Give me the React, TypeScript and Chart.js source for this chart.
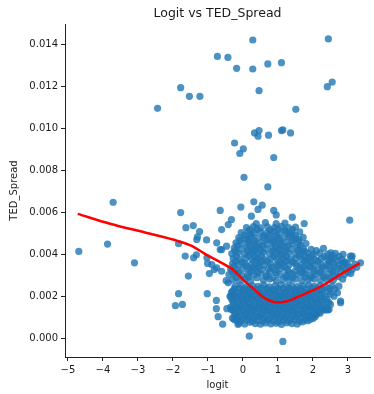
import { useEffect, useRef } from "react";
import { Chart, registerables } from "chart.js";

Chart.register(...registerables);

const chartTitle = "Logit vs TED_Spread";
const xLabel = "logit";
const yLabel = "TED_Spread";
const xTicks = [-5, -4, -3, -2, -1, 0, 1, 2, 3];
const yTicks = [0, 0.002, 0.004, 0.006, 0.008, 0.01, 0.012, 0.014];

// isolated points (logit, TED_Spread)
const sparsePoints: [number, number][] = [
  [-2.44, 0.01096], [-1.78, 0.01194], [-1.53, 0.01153], [-1.23, 0.01153], [-0.73, 0.01343],
  [-0.43, 0.01338], [-0.18, 0.01286], [0.28, 0.01421], [0.28, 0.01283], [0.46, 0.0118],
  [0.71, 0.01307], [1.1, 0.01313], [1.51, 0.01091], [2.44, 0.01426], [2.41, 0.01199], [2.55, 0.01221],
  [0.33, 0.00979], [0.46, 0.0099], [0.43, 0.00963], [0.73, 0.00968], [1.1, 0.0099], [1.14, 0.00993],
  [1.36, 0.00979], [-0.24, 0.00931], [0.01, 0.00903], [-0.09, 0.00881], [0.88, 0.00862],
  [0.03, 0.00768], [0.71, 0.00722],
  [-3.71, 0.00649], [-1.78, 0.006], [-0.65, 0.0061], [-0.06, 0.00626], [0.31, 0.00651], [0.55, 0.00635],
  [0.43, 0.00615], [0.88, 0.0061], [0.95, 0.00589], [1.41, 0.00578], [3.05, 0.00564],
  [-4.69, 0.00415], [-3.87, 0.0045], [-1.63, 0.00528], [-1.42, 0.00538], [-1.24, 0.0051],
  [-1.3, 0.00485], [-1.04, 0.0047], [-1.84, 0.00452], [-1.65, 0.00393], [-1.33, 0.00399], [-0.65, 0.00424],
  [-3.1, 0.00361], [-1.56, 0.00298], [-1.84, 0.00214], [-1.93, 0.00157], [-1.73, 0.00163],
  [-1.02, 0.00214], [-1.01, 0.00358], [-0.96, 0.0031], [-0.82, 0.00329], [-0.76, 0.00182],
  [-0.76, 0.00143], [-0.71, 0.00105], [-0.58, 0.00069], [-0.42, 0.00266], [0.18, 0.00012], [1.14, -0.00013],
];

// dense lower core of the cloud
const coreCluster: [number, number][] = [
  [-0.12, 0.00074], [0.05, 0.0007], [0.2, 0.00078], [0.35, 0.00072], [0.5, 0.00069], [0.65, 0.00075],
  [0.8, 0.00071], [0.95, 0.00073], [1.1, 0.00068], [1.25, 0.00076], [1.4, 0.00072], [1.55, 0.0007],
  [1.7, 0.0008], [1.85, 0.00086], [2.0, 0.00096],
  [-0.3, 0.00098], [-0.15, 0.00103], [0.0, 0.00095], [0.15, 0.00102], [0.3, 0.00097], [0.45, 0.00105],
  [0.6, 0.00099], [0.75, 0.00094], [0.9, 0.00104], [1.05, 0.00098], [1.2, 0.00101], [1.35, 0.00096],
  [1.5, 0.00103], [1.65, 0.00099], [1.8, 0.00106], [1.95, 0.0011], [2.1, 0.00115],
  [-0.22, 0.00124], [-0.07, 0.00128], [0.08, 0.00122], [0.23, 0.00127], [0.38, 0.00125], [0.53, 0.00121],
  [0.68, 0.00129], [0.83, 0.00126], [0.98, 0.00123], [1.13, 0.00127], [1.28, 0.00124], [1.43, 0.0013],
  [1.58, 0.00122], [1.73, 0.00126], [1.88, 0.00128], [2.03, 0.00125], [2.18, 0.0013], [2.32, 0.00136],
  [-0.35, 0.0015], [-0.2, 0.00147], [-0.05, 0.00153], [0.1, 0.00149], [0.25, 0.00152], [0.4, 0.00146],
  [0.55, 0.00151], [0.7, 0.00148], [0.85, 0.00154], [1.0, 0.0015], [1.15, 0.00147], [1.3, 0.00152],
  [1.45, 0.00149], [1.6, 0.00155], [1.75, 0.00148], [1.9, 0.00151], [2.05, 0.00146], [2.2, 0.00153], [2.38, 0.00149],
  [-0.28, 0.00176], [-0.13, 0.00172], [0.02, 0.00178], [0.17, 0.00174], [0.32, 0.00177], [0.47, 0.00171],
  [0.62, 0.00176], [0.77, 0.00173], [0.92, 0.00179], [1.07, 0.00175], [1.22, 0.00172], [1.37, 0.00177],
  [1.52, 0.00174], [1.67, 0.00178], [1.82, 0.00171], [1.97, 0.00176], [2.12, 0.00173], [2.27, 0.00178], [2.45, 0.00172],
  [-0.35, 0.00201], [-0.2, 0.00197], [-0.05, 0.00203], [0.1, 0.00199], [0.25, 0.00202], [0.4, 0.00196],
  [0.55, 0.00201], [0.7, 0.00198], [0.85, 0.00204], [1.0, 0.002], [1.15, 0.00197], [1.3, 0.00202],
  [1.45, 0.00199], [1.6, 0.00205], [1.75, 0.00198], [1.9, 0.00201], [2.05, 0.00196], [2.2, 0.00203], [2.35, 0.00199],
  [-0.3, 0.00226], [-0.15, 0.00222], [0.0, 0.00228], [0.15, 0.00224], [0.3, 0.00227], [0.45, 0.00221],
  [0.6, 0.00226], [0.75, 0.00223], [0.9, 0.00229], [1.05, 0.00225], [1.2, 0.00222], [1.35, 0.00227],
  [1.5, 0.00224], [1.65, 0.00228], [1.8, 0.00221], [1.95, 0.00226], [2.1, 0.00223], [2.25, 0.00228], [2.45, 0.00224],
  [-0.22, 0.0025], [-0.05, 0.00254], [0.12, 0.00248], [0.28, 0.00252], [0.44, 0.00249], [0.6, 0.00255],
  [0.76, 0.00247], [0.92, 0.00251], [1.08, 0.00256], [1.24, 0.00249], [1.4, 0.00253], [1.56, 0.00248],
  [1.72, 0.00252], [1.88, 0.00255], [2.04, 0.00249], [2.2, 0.00253], [2.36, 0.00247], [2.55, 0.00251],
];

// extra points packed between the core rows
const coreFill: [number, number][] = [
  [-0.2, 0.00088], [-0.05, 0.00085], [0.12, 0.0009], [0.27, 0.00084], [0.42, 0.00087], [0.57, 0.00083],
  [0.72, 0.00089], [0.87, 0.00086], [1.02, 0.00082], [1.17, 0.00088], [1.32, 0.00085], [1.47, 0.00089],
  [1.62, 0.00084], [1.77, 0.0009], [1.92, 0.00093], [2.06, 0.00104],
  [-0.24, 0.00113], [-0.08, 0.00109], [0.07, 0.00115], [0.22, 0.00111], [0.37, 0.00108], [0.52, 0.00114],
  [0.67, 0.0011], [0.82, 0.00116], [0.97, 0.00112], [1.12, 0.00109], [1.27, 0.00115], [1.42, 0.00111],
  [1.57, 0.00113], [1.72, 0.00117], [1.87, 0.0011], [2.02, 0.00114], [2.2, 0.00121],
  [-0.3, 0.00137], [-0.14, 0.0014], [0.01, 0.00135], [0.16, 0.00139], [0.31, 0.00136], [0.46, 0.00141],
  [0.61, 0.00138], [0.76, 0.00134], [0.91, 0.0014], [1.06, 0.00137], [1.21, 0.00141], [1.36, 0.00135],
  [1.51, 0.00139], [1.66, 0.00136], [1.81, 0.00142], [1.96, 0.00138], [2.11, 0.00134], [2.26, 0.0014], [2.42, 0.00137],
  [-0.27, 0.00162], [-0.12, 0.00159], [0.03, 0.00165], [0.18, 0.00161], [0.33, 0.00158], [0.48, 0.00164],
  [0.63, 0.0016], [0.78, 0.00166], [0.93, 0.00162], [1.08, 0.00159], [1.23, 0.00164], [1.38, 0.00161],
  [1.53, 0.00166], [1.68, 0.0016], [1.83, 0.00163], [1.98, 0.00159], [2.13, 0.00165], [2.28, 0.00161], [2.5, 0.00163],
  [-0.32, 0.00187], [-0.17, 0.0019], [-0.02, 0.00185], [0.13, 0.00189], [0.28, 0.00186], [0.43, 0.00191],
  [0.58, 0.00188], [0.73, 0.00184], [0.88, 0.0019], [1.03, 0.00187], [1.18, 0.00191], [1.33, 0.00185],
  [1.48, 0.00189], [1.63, 0.00186], [1.78, 0.00192], [1.93, 0.00188], [2.08, 0.00184], [2.23, 0.0019], [2.4, 0.00187],
  [-0.28, 0.00212], [-0.13, 0.00209], [0.02, 0.00215], [0.17, 0.00211], [0.32, 0.00208], [0.47, 0.00214],
  [0.62, 0.0021], [0.77, 0.00216], [0.92, 0.00212], [1.07, 0.00209], [1.22, 0.00214], [1.37, 0.00211],
  [1.52, 0.00216], [1.67, 0.0021], [1.82, 0.00213], [1.97, 0.00209], [2.12, 0.00215], [2.27, 0.00211], [2.5, 0.00213],
  [-0.25, 0.00237], [-0.1, 0.0024], [0.05, 0.00235], [0.2, 0.00239], [0.36, 0.00236], [0.52, 0.00241],
  [0.68, 0.00238], [0.84, 0.00234], [1.0, 0.0024], [1.16, 0.00237], [1.32, 0.00241], [1.48, 0.00235],
  [1.64, 0.00239], [1.8, 0.00236], [1.96, 0.00242], [2.12, 0.00238], [2.28, 0.00234], [2.46, 0.0024], [2.62, 0.00236],
];

// looser upper part of the cloud
const upperCluster: [number, number][] = [
  [-0.48, 0.00276], [-0.3, 0.00281], [-0.12, 0.00277], [0.06, 0.00283], [0.22, 0.00275], [0.58, 0.00279],
  [0.76, 0.00284], [0.95, 0.00276], [1.14, 0.00281], [1.32, 0.00278], [1.5, 0.00283], [1.68, 0.00276],
  [1.86, 0.0028], [2.04, 0.00284], [2.22, 0.00277], [2.4, 0.00281], [2.58, 0.00278], [2.85, 0.00283],
  [-0.4, 0.00305], [-0.22, 0.00309], [-0.04, 0.00302], [0.14, 0.00307], [0.32, 0.00304], [0.5, 0.0031],
  [0.68, 0.00303], [1.04, 0.00306], [1.22, 0.00302], [1.4, 0.00308], [1.58, 0.00305], [1.76, 0.00309],
  [1.94, 0.00303], [2.12, 0.00307], [2.3, 0.00304], [2.48, 0.00309], [2.66, 0.00302], [2.9, 0.00306], [3.08, 0.0031],
  [-0.35, 0.00331], [-0.17, 0.00327], [0.01, 0.00333], [0.19, 0.00328], [0.37, 0.00334], [0.55, 0.00329],
  [0.73, 0.00332], [0.91, 0.00326], [1.09, 0.00333], [1.27, 0.00329], [1.63, 0.00331], [1.81, 0.00327],
  [1.99, 0.00334], [2.17, 0.00329], [2.35, 0.00332], [2.53, 0.00328], [2.71, 0.00333], [2.93, 0.0033], [3.12, 0.00329],
  [-0.3, 0.00356], [-0.12, 0.00352], [0.06, 0.00357], [0.24, 0.00353], [0.42, 0.00358], [0.6, 0.00351],
  [0.78, 0.00356], [0.96, 0.00354], [1.14, 0.00359], [1.32, 0.00352], [1.5, 0.00357], [1.68, 0.00353],
  [1.86, 0.00358], [2.04, 0.00351], [2.22, 0.00356], [2.4, 0.00354], [2.58, 0.00359], [2.76, 0.00352],
  [2.98, 0.00357], [3.2, 0.00355],
  [-0.28, 0.00381], [-0.1, 0.00377], [0.08, 0.00383], [0.26, 0.00378], [0.44, 0.00382], [0.62, 0.00376],
  [0.8, 0.00381], [0.98, 0.00379], [1.16, 0.00384], [1.34, 0.00377], [1.52, 0.00382], [1.7, 0.00378],
  [1.88, 0.00383], [2.06, 0.00376], [2.24, 0.00381], [2.42, 0.00379], [2.6, 0.00384], [2.82, 0.00378], [3.1, 0.00382],
  [-0.32, 0.00405], [-0.14, 0.00409], [0.04, 0.00403], [0.22, 0.00408], [0.4, 0.00404], [0.58, 0.0041],
  [0.76, 0.00403], [0.94, 0.00407], [1.12, 0.00404], [1.3, 0.00409], [1.48, 0.00402], [1.66, 0.00406],
  [1.84, 0.00408], [2.02, 0.00403], [2.2, 0.00407], [2.42, 0.00402], [2.64, 0.00406], [2.86, 0.00401],
  [-0.25, 0.00431], [-0.07, 0.00427], [0.11, 0.00433], [0.29, 0.00428], [0.47, 0.00432], [0.65, 0.00426],
  [0.83, 0.00431], [1.01, 0.00429], [1.19, 0.00434], [1.37, 0.00427], [1.55, 0.00432], [1.73, 0.00428],
  [1.95, 0.00425], [2.3, 0.0043],
  [-0.2, 0.00456], [-0.02, 0.00452], [0.16, 0.00457], [0.34, 0.00453], [0.52, 0.00458], [0.7, 0.00451],
  [0.88, 0.00456], [1.06, 0.00454], [1.24, 0.00459], [1.42, 0.00452], [1.6, 0.00457], [1.8, 0.00453],
  [-0.12, 0.00481], [0.06, 0.00477], [0.24, 0.00483], [0.42, 0.00478], [0.6, 0.00482], [0.78, 0.00476],
  [0.96, 0.00481], [1.14, 0.00479], [1.32, 0.00484], [1.5, 0.00477], [1.72, 0.00482],
  [-0.05, 0.00505], [0.14, 0.00509], [0.32, 0.00503], [0.5, 0.00508], [0.68, 0.00504], [0.86, 0.0051],
  [1.04, 0.00503], [1.22, 0.00507], [1.4, 0.00504], [1.62, 0.00508],
  [0.1, 0.00529], [0.3, 0.00533], [0.5, 0.00527], [0.7, 0.00532], [0.9, 0.00528], [1.1, 0.00534],
  [1.3, 0.00529], [1.5, 0.00531],
  [0.38, 0.00548], [0.64, 0.00552], [0.95, 0.00547], [1.2, 0.0055],
];

// extra points between the upper rows
const upperFill: [number, number][] = [
  [-0.2, 0.00292], [0.15, 0.00294], [0.4, 0.0029], [0.67, 0.00295], [0.86, 0.00291], [1.23, 0.00293],
  [1.41, 0.0029], [1.77, 0.00294], [1.95, 0.00291], [2.31, 0.00293], [2.49, 0.0029], [2.72, 0.00295],
  [-0.31, 0.00318], [-0.13, 0.00315], [0.23, 0.0032], [0.41, 0.00316], [0.77, 0.00319], [0.95, 0.00314],
  [1.31, 0.00318], [1.49, 0.00321], [1.67, 0.00316], [2.03, 0.00319], [2.21, 0.00315], [2.57, 0.00318],
  [2.8, 0.00321], [3.0, 0.00316],
  [-0.26, 0.00343], [0.1, 0.00345], [0.28, 0.0034], [0.46, 0.00344], [0.82, 0.00341], [1.0, 0.00346],
  [1.18, 0.00342], [1.54, 0.00345], [1.72, 0.0034], [1.9, 0.00344], [2.26, 0.00341], [2.44, 0.00346],
  [2.62, 0.00342], [2.85, 0.00345], [3.05, 0.00341],
  [-0.21, 0.00368], [-0.03, 0.00365], [0.33, 0.0037], [0.51, 0.00366], [0.69, 0.00369], [1.05, 0.00364],
  [1.23, 0.0037], [1.41, 0.00367], [1.77, 0.00371], [1.95, 0.00366], [2.13, 0.00369], [2.49, 0.00367],
  [2.7, 0.0037], [2.92, 0.00366],
  [-0.19, 0.00393], [0.17, 0.00395], [0.35, 0.0039], [0.53, 0.00394], [0.89, 0.00391], [1.07, 0.00396],
  [1.25, 0.00392], [1.61, 0.00395], [1.79, 0.0039], [1.97, 0.00394], [2.33, 0.00391], [2.55, 0.00395], [2.75, 0.00392],
  [-0.23, 0.00418], [0.13, 0.0042], [0.31, 0.00416], [0.49, 0.00421], [0.85, 0.00417], [1.03, 0.00422],
  [1.21, 0.00418], [1.57, 0.0042], [1.75, 0.00416], [2.1, 0.00419],
  [-0.16, 0.00443], [0.2, 0.00445], [0.38, 0.0044], [0.56, 0.00444], [0.92, 0.00441], [1.1, 0.00446],
  [1.28, 0.00442], [1.64, 0.00444],
  [-0.08, 0.00468], [0.15, 0.0047], [0.33, 0.00466], [0.69, 0.00469], [0.87, 0.00465], [1.05, 0.0047],
  [1.41, 0.00467], [1.6, 0.00471],
  [0.05, 0.00493], [0.23, 0.00495], [0.59, 0.00491], [0.77, 0.00496], [0.95, 0.00492], [1.31, 0.00494], [1.5, 0.0049],
  [0.2, 0.00518], [0.4, 0.0052], [0.78, 0.00517], [1.0, 0.00521], [1.2, 0.00516], [1.42, 0.00519],
];

// edges of the cloud
const fringePoints: [number, number][] = [
  [-0.61, 0.00519], [-0.42, 0.00543], [-0.33, 0.00567], [0.24, 0.00583], [1.75, 0.00548],
  [-0.61, 0.00321], [-0.47, 0.0044], [-0.61, 0.00424], [-0.75, 0.00456], [-0.89, 0.00353],
  [-0.75, 0.00337], [-1.03, 0.00385], [-1.41, 0.00385], [-1.32, 0.00472], [-0.37, 0.00202],
  [-0.33, 0.00139], [-0.46, 0.00143], [-0.26, 0.00092], [-0.14, 0.00068], [-0.33, 0.00219],
  [3.12, 0.00393], [3.36, 0.00361], [2.51, 0.00377], [2.89, 0.00361], [2.51, 0.00409], [3.07, 0.00393],
  [2.74, 0.0025], [2.7, 0.00219], [2.79, 0.00179], [2.79, 0.00171], [2.46, 0.00139], [2.37, 0.00139],
  [2.6, 0.00202], [3.25, 0.0034],
];

// lowess fit
const lowessLogit = [-4.72, -3.8, -2.8, -1.85, -1.45, -1.1, -0.7, -0.3, 0.05, 0.35, 0.62, 0.85, 1.0, 1.2, 1.45, 1.75, 2.05, 2.4, 2.7, 3.0, 3.34];
const lowessTed = [0.00594, 0.00547, 0.00505, 0.00464, 0.0044, 0.00405, 0.00369, 0.0033, 0.00274, 0.0023, 0.00193, 0.00176, 0.00173, 0.00176, 0.0019, 0.00212, 0.00234, 0.00265, 0.00297, 0.00327, 0.0036];

const FONT = "'DejaVu Sans', sans-serif";
const TEXT = "#1a1a1a";

export default function App() {
  const ref = useRef<HTMLCanvasElement | null>(null);
  useEffect(() => {
    if (!ref.current) return;
    const points = [...sparsePoints, ...coreCluster, ...coreFill, ...upperCluster, ...upperFill, ...fringePoints].map(([x, y]) => ({ x, y }));
    const line = lowessLogit.map((x, i) => ({ x, y: lowessTed[i] }));
    const titlePlugin = {
      id: "topTitle",
      afterDraw(chart: any) {
        const { ctx, chartArea } = chart;
        ctx.save();
        ctx.font = `12.5px ${FONT}`;
        ctx.fillStyle = TEXT;
        ctx.textAlign = "center";
        ctx.textBaseline = "middle";
        ctx.fillText(chartTitle, (chartArea.left + chartArea.right) / 2, 14);
        ctx.restore();
      },
    };
    const chart = new Chart(ref.current, {
      type: "scatter",
      data: {
        datasets: [
          {
            label: "lowess",
            data: line,
            showLine: true,
            borderColor: "#ff0000",
            borderWidth: 2.5,
            pointRadius: 0,
            cubicInterpolationMode: "monotone",
            order: 0,
          } as any,
          {
            label: "points",
            data: points,
            backgroundColor: "rgba(31,119,180,0.8)",
            borderWidth: 0,
            pointRadius: 3.6,
            order: 1,
          },
        ],
      },
      options: {
        responsive: false,
        animation: false,
        layout: { padding: { top: 24, right: 1, left: 0, bottom: 0 } },
        plugins: { legend: { display: false }, tooltip: { enabled: false }, title: { display: false } },
        scales: {
          x: {
            type: "linear",
            min: -5.085,
            max: 3.63,
            afterFit: (s: any) => { s.height = 37; },
            afterBuildTicks: (s: any) => { s.ticks = xTicks.map((v) => ({ value: v })); },
            grid: { display: true, drawOnChartArea: false, drawTicks: true, tickLength: 4, tickColor: "#222", tickWidth: 1 },
            border: { display: true, color: "#222", width: 1 },
            ticks: {
              color: TEXT,
              font: { family: FONT, size: 10 },
              padding: 3,
              maxRotation: 0,
              autoSkip: false,
              callback: (v: any) => (v < 0 ? "\u2212" + Math.abs(v) : String(v)),
            },
            title: { display: true, text: xLabel, color: TEXT, font: { family: FONT, size: 10 }, padding: { top: 0, bottom: 3 } },
          },
          y: {
            type: "linear",
            min: -0.00087,
            max: 0.01497,
            afterFit: (s: any) => { s.width = 65; },
            afterBuildTicks: (s: any) => { s.ticks = yTicks.map((v) => ({ value: v })); },
            grid: { display: true, drawOnChartArea: false, drawTicks: true, tickLength: 4, tickColor: "#222", tickWidth: 1 },
            border: { display: true, color: "#222", width: 1 },
            ticks: {
              color: TEXT,
              font: { family: FONT, size: 10 },
              padding: 3,
              autoSkip: false,
              callback: (v: any) => Number(v).toFixed(3),
            },
            title: { display: true, text: yLabel, color: TEXT, font: { family: FONT, size: 10 }, padding: { top: 8, bottom: 0 } },
          },
        },
      },
      plugins: [titlePlugin],
    });
    return () => chart.destroy();
  }, []);
  return (
    <div style={{ position: "absolute", left: 0, top: 0, width: 374, height: 394, background: "#fff" }}>
      <canvas ref={ref} width={374} height={394} style={{ display: "block" }} />
    </div>
  );
}
